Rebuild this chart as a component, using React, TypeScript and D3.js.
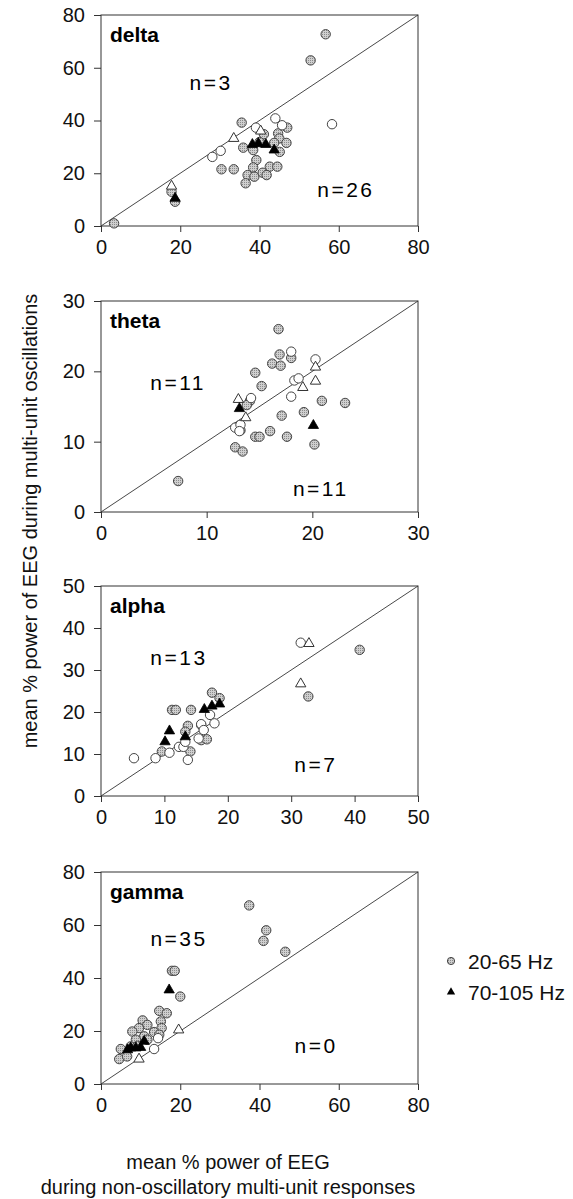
import * as d3 from "d3";
import React, { useEffect, useRef } from "react";

type Pt = [number, number];

// delta
const deltaGrey: Pt[] = [
  [3.3, 1.0], [56.7, 72.7], [52.9, 62.8], [35.5, 39.2], [47.0, 37.3], [44.7, 35.1],
  [45.0, 33.2], [46.8, 31.5], [43.7, 31.5], [35.9, 29.7], [38.4, 28.8], [41.1, 34.8],
  [45.1, 28.1], [39.2, 25.0], [30.4, 21.5], [33.5, 21.5], [38.4, 22.2], [42.6, 22.5],
  [44.5, 22.5], [37.0, 19.3], [38.7, 18.7], [40.8, 20.2], [41.8, 19.3], [36.5, 16.2],
  [17.8, 13.0], [18.7, 9.2], [40.0, 31.8],
];
const deltaOpen: Pt[] = [
  [44.0, 40.8], [39.1, 37.3], [58.3, 38.6], [45.7, 38.2], [30.2, 28.5], [28.1, 26.2],
];
const deltaTriOpen: Pt[] = [[33.5, 33.2], [40.3, 36.0], [17.8, 15.1]];
const deltaTriFilled: Pt[] = [[38.2, 30.9], [39.7, 31.3], [41.6, 30.9], [43.7, 28.8], [18.7, 10.5]];
const deltaNotes = [
  { label: "n=3", x: 27.8, y: 51.6 },
  { label: "n=26", x: 61.8, y: 11.0 },
];

// theta
const thetaGrey: Pt[] = [
  [7.3, 4.4], [16.8, 26.0], [16.9, 22.4], [18.0, 21.9], [16.2, 21.1], [17.0, 20.8],
  [14.6, 19.8], [15.2, 17.9], [14.1, 15.8], [20.9, 15.8], [23.1, 15.5], [13.8, 15.2],
  [19.2, 14.2], [17.1, 13.7], [16.0, 11.5], [14.6, 10.7], [15.0, 10.7], [17.6, 10.7],
  [20.2, 9.6], [12.7, 9.2], [13.4, 8.6], [13.2, 11.6],
];
const thetaOpen: Pt[] = [
  [18.0, 22.8], [20.3, 21.7], [18.3, 18.7], [18.7, 19.0], [18.0, 16.4], [14.2, 16.2],
  [12.7, 12.0], [13.2, 12.4], [13.1, 11.5],
];
const thetaTriOpen: Pt[] = [[13.0, 16.0], [20.3, 20.6], [20.3, 18.6], [19.1, 17.7], [13.7, 13.4]];
const thetaTriFilled: Pt[] = [[13.1, 14.7], [20.1, 12.3]];
const thetaNotes = [
  { label: "n=11", x: 7.3, y: 17.3 },
  { label: "n=11", x: 20.8, y: 2.3 },
];

// alpha
const alphaGrey: Pt[] = [
  [40.8, 34.8], [32.7, 23.7], [17.5, 24.6], [18.7, 23.3], [11.2, 20.5], [11.8, 20.5],
  [14.2, 20.5], [13.7, 16.7], [13.3, 15.3], [15.8, 16.9], [15.8, 13.3], [16.7, 13.5],
  [9.6, 10.6], [14.1, 10.6],
];
const alphaOpen: Pt[] = [
  [5.2, 9.0], [31.5, 36.5], [17.2, 19.3], [17.9, 17.3], [15.8, 17.1], [16.2, 15.7],
  [12.3, 11.7], [13.0, 11.7], [10.8, 10.3], [8.6, 9.0], [13.7, 8.6], [13.3, 12.9],
  [15.4, 13.7],
];
const alphaTriOpen: Pt[] = [[32.8, 36.3], [31.5, 26.7]];
const alphaTriFilled: Pt[] = [[10.1, 12.9], [10.8, 15.5], [13.3, 14.1], [16.3, 20.6], [17.5, 21.4], [18.7, 21.9]];
const alphaNotes = [
  { label: "n=13", x: 12.3, y: 31.2 },
  { label: "n=7", x: 33.9, y: 5.7 },
];

// gamma
const gammaGrey: Pt[] = [
  [37.4, 67.4], [41.7, 58.0], [41.0, 54.0], [46.5, 49.9], [17.9, 42.7], [18.6, 42.7],
  [20.0, 33.0], [14.7, 27.6], [16.6, 26.7], [10.5, 24.0], [15.1, 23.6], [11.7, 22.3],
  [9.6, 21.1], [15.3, 21.1], [7.9, 19.8], [13.4, 19.6], [14.7, 18.6], [10.9, 18.0],
  [8.8, 16.7], [11.7, 16.7], [5.0, 13.2], [4.6, 9.4], [6.6, 10.4], [7.5, 14.2],
  [9.2, 14.4],
];
const gammaOpen: Pt[] = [[13.4, 13.2], [14.4, 17.3]];
const gammaTriOpen: Pt[] = [[19.6, 20.4], [9.6, 9.4]];
const gammaTriFilled: Pt[] = [[17.2, 35.5], [7.5, 13.6], [8.8, 13.6], [10.0, 13.8], [10.9, 16.1], [6.7, 12.9]];
const gammaNotes = [
  { label: "n=35", x: 19.7, y: 52.1 },
  { label: "n=0", x: 54.3, y: 11.7 },
];

const legendLabels = ["20-65 Hz", "70-105 Hz"];
const yTitle = "mean % power of EEG during multi-unit oscillations";
const xTitle = ["mean % power of EEG", "during non-oscillatory multi-unit responses"];

const panels = [
  { name: "delta", max: 80, step: 20, top: 15, bottom: 226, grey: deltaGrey, open: deltaOpen, triOpen: deltaTriOpen, triFilled: deltaTriFilled, notes: deltaNotes },
  { name: "theta", max: 30, step: 10, top: 301, bottom: 512, grey: thetaGrey, open: thetaOpen, triOpen: thetaTriOpen, triFilled: thetaTriFilled, notes: thetaNotes },
  { name: "alpha", max: 50, step: 10, top: 586, bottom: 796, grey: alphaGrey, open: alphaOpen, triOpen: alphaTriOpen, triFilled: alphaTriFilled, notes: alphaNotes },
  { name: "gamma", max: 80, step: 20, top: 872, bottom: 1084, grey: gammaGrey, open: gammaOpen, triOpen: gammaTriOpen, triFilled: gammaTriFilled, notes: gammaNotes },
];

const X0 = 101;
const X1 = 418;
const FONT = "'Liberation Sans', Arial, Helvetica, sans-serif";
const INK = "#333";

export default function App() {
  const svgRef = useRef<SVGSVGElement | null>(null);

  useEffect(() => {
    document.body.style.margin = "0";
    if (!svgRef.current) return;
    const svg = d3.select(svgRef.current);
    svg.selectAll("*").remove();

    // stippled grey fill used by the circles
    const pat = svg
      .append("defs")
      .append("pattern")
      .attr("id", "stip")
      .attr("width", 2)
      .attr("height", 2)
      .attr("patternUnits", "userSpaceOnUse");
    pat.append("rect").attr("width", 2).attr("height", 2).attr("fill", "#cfcfcf");
    pat.append("rect").attr("width", 1).attr("height", 1).attr("fill", "#8c8c8c");

    const tri = d3.symbol().type(d3.symbolTriangle).size(46)();

    panels.forEach((p) => {
      const x = d3.scaleLinear().domain([0, p.max]).range([X0, X1]);
      const y = d3.scaleLinear().domain([0, p.max]).range([p.bottom, p.top]);
      const ticks = d3.range(0, p.max + p.step / 2, p.step);
      const g = svg.append("g");

      const xAxis = g
        .append("g")
        .attr("transform", `translate(0,${p.bottom})`)
        .call(d3.axisBottom(x).tickValues(ticks).tickSize(6).tickPadding(8).tickSizeOuter(0));
      const yAxis = g
        .append("g")
        .attr("transform", `translate(${X0},0)`)
        .call(d3.axisLeft(y).tickValues(ticks).tickSize(7).tickPadding(9).tickSizeOuter(0));
      [xAxis, yAxis].forEach((a) => {
        a.select(".domain").remove();
        a.selectAll("line").attr("stroke", INK);
        a.selectAll("text")
          .attr("fill", "#111")
          .style("font-family", FONT)
          .style("font-size", "20px");
      });

      g.append("rect")
        .attr("x", X0)
        .attr("y", p.top)
        .attr("width", X1 - X0)
        .attr("height", p.bottom - p.top)
        .attr("fill", "none")
        .attr("stroke", INK)
        .attr("stroke-width", 1);

      g.append("line")
        .attr("x1", x(0))
        .attr("y1", y(0))
        .attr("x2", x(p.max))
        .attr("y2", y(p.max))
        .attr("stroke", INK)
        .attr("stroke-width", 0.9);

      g.selectAll(".grey")
        .data(p.grey)
        .enter()
        .append("circle")
        .attr("cx", (d) => x(d[0]))
        .attr("cy", (d) => y(d[1]))
        .attr("r", 4.7)
        .attr("fill", "url(#stip)")
        .attr("stroke", "#444")
        .attr("stroke-width", 1);

      g.selectAll(".open")
        .data(p.open)
        .enter()
        .append("circle")
        .attr("cx", (d) => x(d[0]))
        .attr("cy", (d) => y(d[1]))
        .attr("r", 4.7)
        .attr("fill", "#fff")
        .attr("stroke", "#444")
        .attr("stroke-width", 1);

      g.selectAll(".triOpen")
        .data(p.triOpen)
        .enter()
        .append("path")
        .attr("d", tri)
        .attr("transform", (d) => `translate(${x(d[0])},${y(d[1])})`)
        .attr("fill", "#fff")
        .attr("stroke", "#333")
        .attr("stroke-width", 1);

      g.selectAll(".triFilled")
        .data(p.triFilled)
        .enter()
        .append("path")
        .attr("d", tri)
        .attr("transform", (d) => `translate(${x(d[0])},${y(d[1])})`)
        .attr("fill", "#000")
        .attr("stroke", "#000")
        .attr("stroke-width", 0.8);

      g.append("text")
        .attr("x", X0 + 9)
        .attr("y", p.top + 26.5)
        .style("font-family", FONT)
        .style("font-size", "21px")
        .style("font-weight", "bold")
        .attr("fill", "#000")
        .text(p.name);

      g.selectAll(".note")
        .data(p.notes)
        .enter()
        .append("text")
        .attr("x", (d) => x(d.x))
        .attr("y", (d) => y(d.y))
        .attr("text-anchor", "middle")
        .style("font-family", FONT)
        .style("font-size", "21px")
        .style("letter-spacing", "2.5px")
        .attr("fill", "#000")
        .text((d) => d.label);
    });

    // legend
    const lg = svg.append("g");
    lg.append("circle")
      .attr("cx", 451)
      .attr("cy", 961)
      .attr("r", 3.6)
      .attr("fill", "url(#stip)")
      .attr("stroke", "#444");
    lg.append("path")
      .attr("d", d3.symbol().type(d3.symbolTriangle).size(30)())
      .attr("transform", "translate(451,992)")
      .attr("fill", "#000");
    lg.selectAll(".lt")
      .data(legendLabels)
      .enter()
      .append("text")
      .attr("x", 468)
      .attr("y", (d, i) => 969 + i * 31)
      .style("font-family", FONT)
      .style("font-size", "21px")
      .attr("fill", "#111")
      .text((d) => d);

    // axis titles
    svg.append("text")
      .attr("transform", "translate(37,521) rotate(-90)")
      .attr("text-anchor", "middle")
      .style("font-family", FONT)
      .style("font-size", "20px")
      .attr("fill", "#111")
      .text(yTitle);

    svg.selectAll(".xt")
      .data(xTitle)
      .enter()
      .append("text")
      .attr("x", 228)
      .attr("y", (d, i) => 1169 + i * 25)
      .attr("text-anchor", "middle")
      .style("font-family", FONT)
      .style("font-size", "20px")
      .attr("fill", "#111")
      .text((d) => d);
  }, []);

  return (
    <svg
      ref={svgRef}
      width={573}
      height={1199}
      style={{ display: "block", background: "#fff" }}
    ></svg>
  );
}
